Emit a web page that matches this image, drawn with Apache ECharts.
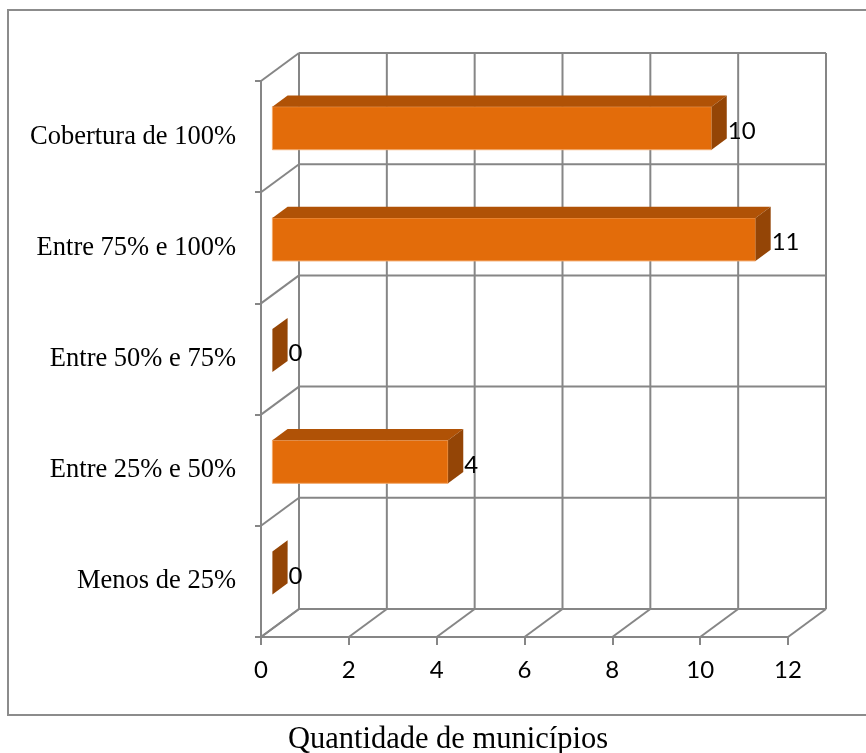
<!DOCTYPE html>
<html>
<head>
<meta charset="utf-8">
<script src="https://cdn.jsdelivr.net/npm/echarts@6/dist/echarts.min.js"></script>
<style>
html,body{margin:0;padding:0;background:#fff;}
#chart{width:866px;height:753px;}
</style>
</head>
<body>
<div id="chart"></div>
<script>
// ---- data ----
const categories = ['Menos de 25%', 'Entre 25% e 50%', 'Entre 50% e 75%', 'Entre 75% e 100%', 'Cobertura de 100%'];
const values = [0, 4, 0, 11, 10];
const xTickValues = [0, 2, 4, 6, 8, 10, 12];
const axisTitle = 'Quantidade de municípios';

// ---- style constants ----
const DEPTH = [38, -28];          // pixel offset of back wall
const BAR_T0 = 0.3, BAR_T1 = 0.7; // bar depth position (fraction of depth)
const BAR_H = 0.387;              // bar thickness as fraction of band
const GRID_COLOR = '#868686';
const FRONT = '#E36C0A', TOP = '#B05206', SIDE = '#944506';

const chart = echarts.init(document.getElementById('chart'));

function wallVertical(params, api) {
  const cs = params.coordSys;
  const px = api.coord([api.value(0), 0])[0];
  const top = cs.y, bottom = cs.y + cs.height;
  const style = { stroke: GRID_COLOR, lineWidth: 2 };
  return {
    type: 'group',
    children: [
      { type: 'line', shape: { x1: px + DEPTH[0], y1: top + DEPTH[1], x2: px + DEPTH[0], y2: bottom + DEPTH[1] }, style },
      { type: 'line', shape: { x1: px, y1: bottom, x2: px + DEPTH[0], y2: bottom + DEPTH[1] }, style }
    ]
  };
}

function wallHorizontal(params, api) {
  const cs = params.coordSys;
  const idx = api.value(1);
  const c = api.coord([0, idx]);
  const band = api.size([0, 1])[1];
  const style = { stroke: GRID_COLOR, lineWidth: 2 };
  const children = [];
  const ys = [c[1] - band / 2];
  if (idx === 0) ys.push(c[1] + band / 2);
  ys.forEach(function (yb) {
    children.push({ type: 'line', shape: { x1: cs.x + DEPTH[0], y1: yb + DEPTH[1], x2: cs.x + cs.width + DEPTH[0], y2: yb + DEPTH[1] }, style });
    children.push({ type: 'line', shape: { x1: cs.x, y1: yb, x2: cs.x + DEPTH[0], y2: yb + DEPTH[1] }, style });
  });
  return { type: 'group', children };
}

function bar3d(params, api) {
  const val = api.value(0), idx = api.value(1);
  const p0 = api.coord([0, idx]);
  const p1 = api.coord([val, idx]);
  const band = api.size([0, 1])[1];
  const h = band * BAR_H;
  const fx = DEPTH[0] * BAR_T0, fy = DEPTH[1] * BAR_T0;
  const bx = DEPTH[0] * BAR_T1, by = DEPTH[1] * BAR_T1;
  const x0 = p0[0], x1 = p1[0];
  const yT = p0[1] - h / 2, yB = p0[1] + h / 2;
  const children = [];
  if (x1 > x0) {
    children.push({ type: 'rect', shape: { x: x0 + fx, y: yT + fy, width: x1 - x0, height: h },
      style: { fill: FRONT, stroke: '#F2A86A', lineWidth: 1 } });
    children.push({ type: 'polygon', shape: { points: [[x0 + fx, yT + fy], [x1 + fx, yT + fy], [x1 + bx, yT + by], [x0 + bx, yT + by]] },
      style: { fill: TOP } });
  }
  children.push({ type: 'polygon', shape: { points: [[x1 + fx, yT + fy], [x1 + bx, yT + by], [x1 + bx, yB + by], [x1 + fx, yB + fy]] },
    style: { fill: SIDE } });
  children.push({ type: 'text', x: x1 + bx + 1, y: p0[1] + fy + 3,
    style: { text: String(val), fill: '#000', font: '24px Lato', align: 'left', verticalAlign: 'middle' } });
  return { type: 'group', children };
}

const option = {
  animation: false,
  backgroundColor: '#fff',
  title: {
    text: axisTitle,
    left: 443, top: 719, textAlign: 'center',
    textStyle: { fontFamily: 'Liberation Serif', fontSize: 30.5, fontWeight: 'normal', color: '#000' }
  },
  graphic: [
    { type: 'rect', shape: { x: 8, y: 10, width: 880, height: 705 }, style: { fill: 'none', stroke: '#8c8c8c', lineWidth: 2 }, z: -1, silent: true }
  ],
  grid: { left: 261, right: 78, top: 81, bottom: 116, containLabel: false },
  xAxis: {
    type: 'value', min: 0, max: 12, interval: 2,
    splitLine: { show: false },
    axisLine: { show: true, lineStyle: { color: GRID_COLOR, width: 2 } },
    axisTick: { show: true, length: 8, lineStyle: { color: GRID_COLOR, width: 2 } },
    axisLabel: { fontFamily: 'Lato', fontSize: 24, color: '#000', margin: 21 }
  },
  yAxis: {
    type: 'category', data: categories,
    axisLine: { show: true, lineStyle: { color: GRID_COLOR, width: 2 } },
    axisTick: { show: true, length: 6, lineStyle: { color: GRID_COLOR, width: 2 } },
    axisLabel: { fontFamily: 'Liberation Serif', fontSize: 26.5, color: '#000', margin: 25, padding: [6, 0, 0, 0] }
  },
  series: [
    { type: 'custom', name: 'wallV', renderItem: wallVertical, clip: false, z: 1, silent: true,
      data: xTickValues.map(function (v) { return [v, 0]; }) },
    { type: 'custom', name: 'wallH', renderItem: wallHorizontal, clip: false, z: 1, silent: true,
      data: categories.map(function (c, i) { return [0, i]; }) },
    { type: 'custom', name: 'bars', renderItem: bar3d, clip: false, z: 3,
      encode: { x: 0, y: 1 },
      data: values.map(function (v, i) { return [v, i]; }) }
  ]
};
chart.setOption(option);
</script>
</body>
</html>
